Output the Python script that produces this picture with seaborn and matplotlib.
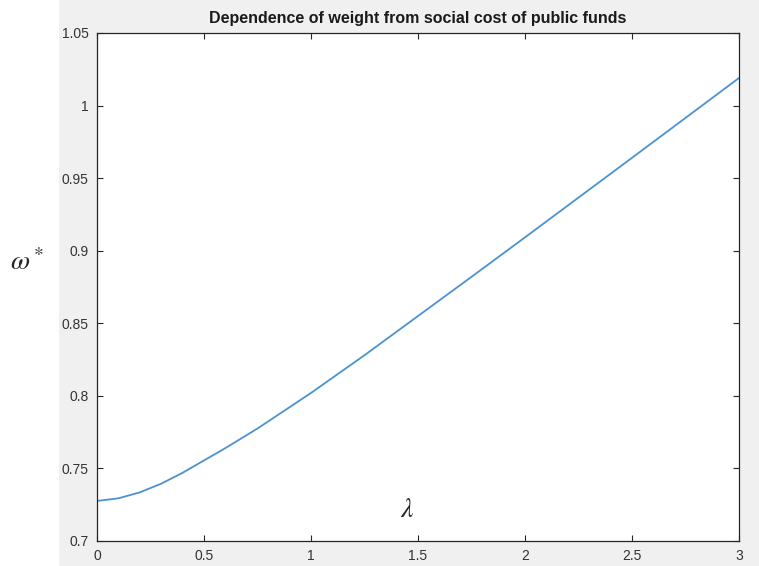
import numpy as np
import pandas as pd
import matplotlib
matplotlib.use("Agg")
import matplotlib.pyplot as plt
import seaborn as sns
from matplotlib.patches import Rectangle

# values
lam = [0.0, 0.1, 0.2, 0.3, 0.4, 0.5, 0.6, 0.75, 1.0, 1.25, 1.5, 1.75, 2.0, 2.25, 2.5, 2.75, 3.0]
omega = [0.7276, 0.7294, 0.7335, 0.7395, 0.7470, 0.7555, 0.7640, 0.7775, 0.8020, 0.8280,
         0.8550, 0.8820, 0.9092, 0.9366, 0.9640, 0.9915, 1.0190]
xticks = [0, 0.5, 1, 1.5, 2, 2.5, 3]
yticks = [0.7, 0.75, 0.8, 0.85, 0.9, 0.95, 1, 1.05]

df = pd.DataFrame({"lambda": lam, "omega": omega})

sns.set_style("ticks")
plt.rcParams['font.family'] = ['Liberation Sans', 'DejaVu Sans']
plt.rcParams['mathtext.fontset'] = 'stix'

fig = plt.figure(figsize=(7.59, 5.66), dpi=100)
fig.patch.set_facecolor('white')
# matlab-style grey figure area
bg = Rectangle((59 / 759, 0), 1 - 59 / 759, 1, transform=fig.transFigure,
               facecolor='#f0f0f0', edgecolor='none', zorder=-10)
fig.add_artist(bg)

ax = fig.add_axes([97 / 759, 25 / 566, 642 / 759, 508 / 566])
ax.set_zorder(1)
ax.set_facecolor('white')
sns.lineplot(data=df, x="lambda", y="omega", ax=ax, color='#4a92d0', linewidth=1.3)

ax.set_xlim(0, 3)
ax.set_ylim(0.7, 1.05)
ax.set_xticks(xticks)
ax.set_xticklabels(['%g' % v for v in xticks])
ax.set_yticks(yticks)
ax.set_yticklabels(['%g' % v for v in yticks])
ax.tick_params(direction='in', top=True, right=True, length=4, width=0.8,
               color='#262626', labelcolor='#333333', labelsize=10)
ax.tick_params(axis='x', pad=6)
ax.tick_params(axis='y', pad=6)
for s in ax.spines.values():
    s.set_color('#262626')
    s.set_linewidth(0.9)
    s.set_visible(True)

ax.set_xlabel('')
ax.set_ylabel('')
ax.set_title('Dependence of weight from social cost of public funds',
             fontsize=11.5, fontweight='bold', color='#1a1a1a', pad=7)

fig.text(27 / 759, 1 - 263 / 566, r'$\omega^*$', fontsize=20, ha='center', va='center', zorder=5)
fig.text(407 / 759, 1 - 510 / 566, r'$\lambda$', fontsize=20, ha='center', va='center', zorder=5)

fig.savefig('out.png', dpi=100)
